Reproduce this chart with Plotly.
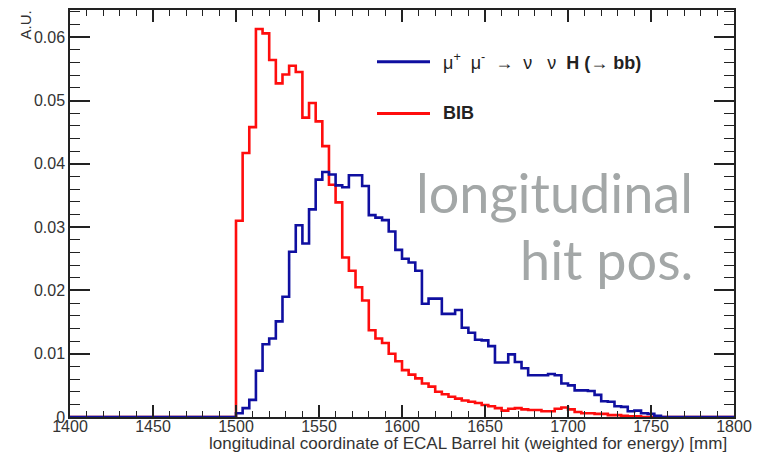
import plotly.graph_objects as go

# histogram binning (mm)
BIN_START = 1400
BIN_WIDTH = 4
N_BINS = 100

# signal: mu+ mu- -> nu nu H(->bb), bins from 1400 mm
signal = [0.0] * 25 + [
    0.0006, 0.0014, 0.0027, 0.0073, 0.0115, 0.0124, 0.0151, 0.0190, 0.0261, 0.0303,
    0.0274, 0.0328, 0.0375, 0.0387, 0.0383, 0.0366, 0.0363, 0.0382, 0.0382, 0.0365,
    0.0319, 0.0315, 0.0311, 0.0293, 0.0264, 0.0250, 0.0244, 0.0231, 0.0179, 0.0187,
    0.0187, 0.0163, 0.0163, 0.0169, 0.0141, 0.0133, 0.0122, 0.0121, 0.0112, 0.0086,
    0.0086, 0.0099, 0.0087, 0.0077, 0.0066, 0.0066, 0.0066, 0.0068, 0.0066, 0.0053,
    0.0050, 0.0042, 0.0042, 0.0041, 0.0035, 0.0025, 0.0024, 0.0017, 0.0016, 0.0009,
    0.0010, 0.0006, 0.0005, 0.0002,
] + [0.0] * 11

# beam-induced background
bib = [0.0] * 25 + [
    0.0310, 0.0417, 0.0458, 0.0613, 0.0606, 0.0564, 0.0527, 0.0541, 0.0555, 0.0545,
    0.0473, 0.0496, 0.0467, 0.0428, 0.0367, 0.0339, 0.0252, 0.0231, 0.0205, 0.0184,
    0.0137, 0.0124, 0.0117, 0.0100, 0.0088, 0.0074, 0.0067, 0.0061, 0.0053, 0.0048,
    0.0040, 0.0036, 0.0032, 0.0029, 0.0026, 0.0024, 0.0022, 0.0019, 0.0017, 0.0014,
    0.0010, 0.0013, 0.0014, 0.0012, 0.0011, 0.0011, 0.0009, 0.0009, 0.0013, 0.0015,
    0.0012, 0.0008, 0.0006, 0.0006, 0.0005, 0.0005, 0.0003, 0.0003, 0.0002, 0.0001,
    0.0001,
] + [0.0] * 14

X_TICKS = [1400, 1450, 1500, 1550, 1600, 1650, 1700, 1750, 1800]
Y_TICKS = [0, 0.01, 0.02, 0.03, 0.04, 0.05, 0.06]
Y_TICK_LABELS = ["0", "0.01", "0.02", "0.03", "0.04", "0.05", "0.06"]

edges = [BIN_START + BIN_WIDTH * i for i in range(N_BINS + 1)]


def step_xy(vals):
    return edges, list(vals) + [vals[-1]]


BLUE = "#0f0fa0"
RED = "#ff0d0d"
FONT = "Liberation Sans, Arial, sans-serif"

fig = go.Figure()
xr, yr = step_xy(bib)
fig.add_trace(go.Scatter(x=xr, y=yr, mode="lines", line=dict(color=RED, width=2.6, shape="hv"),
                         showlegend=False, hoverinfo="skip"))
xb, yb = step_xy(signal)
fig.add_trace(go.Scatter(x=xb, y=yb, mode="lines", line=dict(color=BLUE, width=2.6, shape="hv"),
                         showlegend=False, hoverinfo="skip"))

L, R, T, B = 70, 29, 8, 40
W, H = 763, 457
PW, PH = W - L - R, H - T - B


def px(x):
    return (x - L) / PW


def py(y):
    return (H - B - y) / PH


axis_common = dict(showgrid=False, zeroline=False, showline=True, linecolor="#222222",
                   linewidth=1.5, mirror="ticks", ticks="inside", tickcolor="#222222",
                   tickfont=dict(family=FONT, size=16, color="#333333"))

fig.update_xaxes(range=[1400, 1800], tickvals=X_TICKS, ticklen=12, tickwidth=1.5,
                 ticklabelstandoff=-6,
                 minor=dict(dtick=10, ticklen=6, ticks="inside", tickcolor="#222222", tickwidth=1.2),
                 **axis_common)
fig.update_yaxes(range=[0, 0.0643], tickvals=Y_TICKS, ticktext=Y_TICK_LABELS, ticklen=20, tickwidth=1.5,
                 minor=dict(dtick=0.002, ticklen=10, ticks="inside", tickcolor="#222222", tickwidth=1.2),
                 **axis_common)

shapes = [
    dict(type="line", xref="paper", yref="paper", x0=px(377), x1=px(430), y0=py(60), y1=py(60),
         line=dict(color=BLUE, width=3)),
    dict(type="line", xref="paper", yref="paper", x0=px(377), x1=px(430), y0=py(112), y1=py(112),
         line=dict(color=RED, width=3)),
]

annotations = [
    dict(text="μ<sup>+</sup>  μ<sup>-</sup>  →  ν   ν  <b>H (→ bb)</b>", xref="paper", yref="paper",
         x=px(441), y=py(60), xanchor="left", yanchor="middle", showarrow=False,
         font=dict(family=FONT, size=18, color="#222222")),
    dict(text="<b>BIB</b>", xref="paper", yref="paper", x=px(441), y=py(112), xanchor="left",
         yanchor="middle", showarrow=False, font=dict(family=FONT, size=18, color="#222222")),
    dict(text="longitudinal coordinate of ECAL Barrel hit (weighted for energy) [mm]", xref="paper",
         yref="paper", x=px(729), y=py(444), xanchor="right", yanchor="middle", showarrow=False,
         font=dict(family=FONT, size=17, color="#333333")),
    dict(text="A.U.", xref="paper", yref="paper", x=px(26), y=py(7), xanchor="center", yanchor="top",
         textangle=-90, showarrow=False, font=dict(family=FONT, size=15, color="#333333")),
    dict(text="longitudinal", xref="paper", yref="paper", x=px(695), y=py(191), xanchor="right",
         yanchor="middle", showarrow=False, font=dict(family="Lato, sans-serif", size=54, color="#a3a7a7")),
    dict(text="hit pos.", xref="paper", yref="paper", x=px(695), y=py(259), xanchor="right",
         yanchor="middle", showarrow=False, font=dict(family="Lato, sans-serif", size=54, color="#a3a7a7")),
]

fig.update_layout(width=W, height=H, margin=dict(l=L, r=R, t=T, b=B), paper_bgcolor="white",
                  plot_bgcolor="white", shapes=shapes, annotations=annotations, showlegend=False)

fig.write_html("out.html", config={"displayModeBar": False},
               post_script="document.body.style.margin='0';document.body.style.padding='0';")
